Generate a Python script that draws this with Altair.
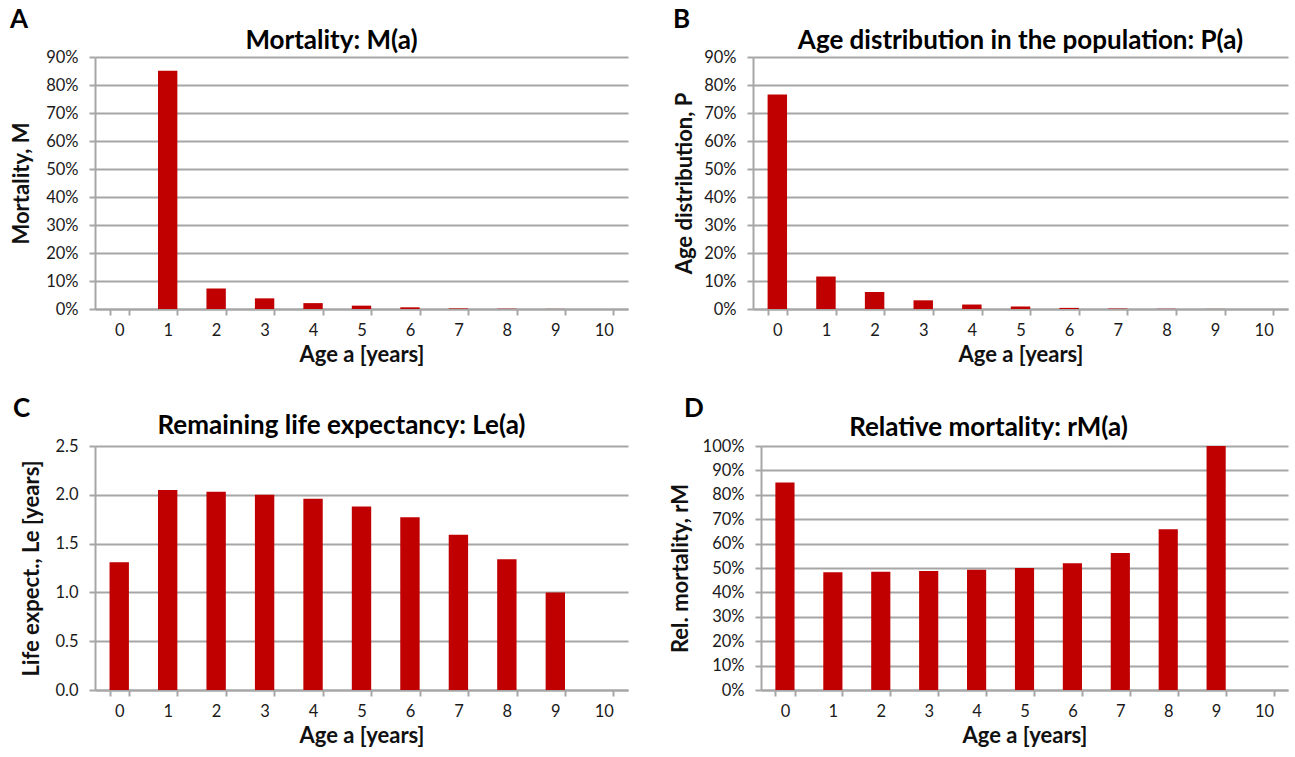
import altair as alt
import pandas as pd

ages = [str(i) for i in range(11)]
mortality = [0.0, 0.851, 0.073, 0.038, 0.021, 0.012, 0.006, 0.002, 0.001, 0.0004, None]
age_dist = [0.766, 0.116, 0.061, 0.031, 0.016, 0.009, 0.004, 0.0015, 0.0007, 0.0003, None]
life_exp = [1.31, 2.05, 2.03, 2.00, 1.96, 1.88, 1.77, 1.59, 1.34, 1.00, None]
rel_mort = [0.85, 0.483, 0.485, 0.488, 0.493, 0.500, 0.519, 0.561, 0.659, 1.00, None]

FONT = "Lato"
RED = "#C00000"
GRID = "#a6a6a6"


def panel(letter, title, values, ytitle, ymax, ystep, fmt, w, h, ytx, tdx, tdy, lx):
    df = pd.DataFrame({"age": ages, "v": values})
    yvals = [round(i * ystep, 4) for i in range(int(round(ymax / ystep)) + 1)]
    bars = alt.Chart(df).mark_bar(color=RED).encode(
        x=alt.X(
            "age:O",
            sort=ages,
            scale=alt.Scale(domain=ages, paddingInner=0.6, paddingOuter=0.3),
            axis=alt.Axis(
                title="Age a [years]",
                labelAngle=0,
                tickBand="extent",
                grid=False,
                domainColor=GRID,
                domainWidth=2,
                tickColor=GRID,
                tickWidth=2,
                tickSize=6,
                labelFontSize=16.5,
                labelPadding=7,
                labelColor="#1a1a1a",
                titleFontSize=22,
                titleFontWeight="bold",
                titlePadding=6,
                titleColor="#111111",
            ),
        ),
        y=alt.Y(
            "v:Q",
            scale=alt.Scale(domain=[0, ymax], nice=False, zero=True),
            axis=alt.Axis(
                title=ytitle,
                values=yvals,
                format=fmt,
                grid=True,
                gridColor=GRID,
                gridWidth=2,
                domainColor=GRID,
                domainWidth=2,
                tickColor=GRID,
                tickWidth=2,
                tickSize=6,
                labelFontSize=16.5,
                labelPadding=11,
                labelColor="#1a1a1a",
                titleFontSize=22,
                titleFontWeight="bold",
                titleX=ytx,
                titleColor="#111111",
            ),
        ),
    )
    txt = alt.Data(values=[{"letter": letter, "title": title}])
    lab = alt.Chart(txt).mark_text(
        font=FONT, fontSize=26, fontWeight="bold", align="left", baseline="middle", color="black"
    ).encode(x=alt.value(lx), y=alt.value(-37), text="letter:N")
    ttl = alt.Chart(txt).mark_text(
        font=FONT, fontSize=26, fontWeight="bold", align="center", baseline="middle", color="black"
    ).encode(x=alt.value(w / 2 + tdx), y=alt.value(tdy), text="title:N")
    return alt.layer(bars, lab, ttl).properties(width=w, height=h)


A = panel("A", "Mortality: M(a)", mortality, "Mortality, M", 0.9, 0.1, ".0%", 533, 252, -62, -30, -16, -85)
B = panel("B", "Age distribution in the population: P(a)", age_dist, "Age distribution, P", 0.9, 0.1, ".0%", 535, 252, -57, 0, -16, -80)
C = panel("C", "Remaining life expectancy: Le(a)", life_exp, "Life expect., Le [years]", 2.5, 0.5, ".1f", 533, 244, -52, -20, -20, -82)
D = panel("D", "Relative mortality: rM(a)", rel_mort, "Rel. mortality, rM", 1.0, 0.1, ".0%", 527, 244, -69, -36, -18, -77)

row1 = alt.hconcat(A, B, spacing=125, bounds="flush")
row2 = alt.hconcat(C, D, spacing=133, bounds="flush")

chart = alt.vconcat(row1, row2, spacing=30, bounds="full").configure(
    font=FONT
).configure_view(stroke=None).properties(padding={"left": 9, "top": 7, "right": 5, "bottom": 0})

chart.save("out.html", embed_options={"renderer": "svg", "actions": False})
